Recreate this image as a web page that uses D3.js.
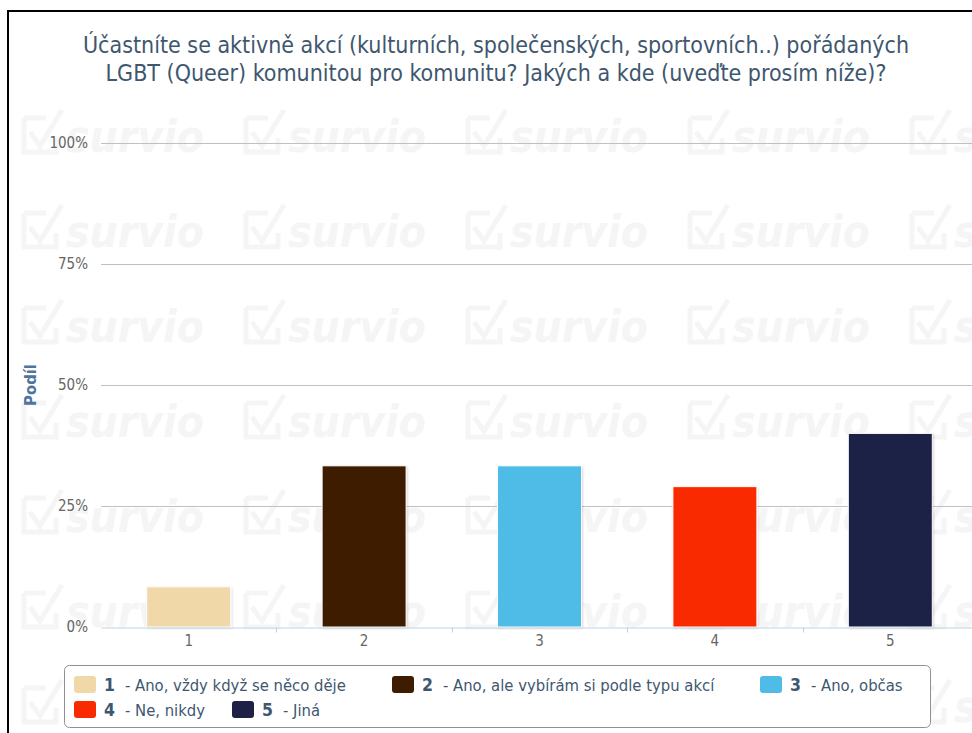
<!DOCTYPE html>
<html>
<head>
<meta charset="utf-8">
<script src="https://cdn.jsdelivr.net/npm/d3@7"></script>
<style>
  body { margin: 0; background: #fff; }
  svg { display: block; font-family: "DejaVu Sans Condensed", "DejaVu Sans", sans-serif; }
</style>
</head>
<body>
<div id="chart"></div>
<script>
var categories = ["1", "2", "3", "4", "5"];
var values = [8.3, 33.3, 33.3, 29, 40];
var labels = ["Ano, vždy když se něco děje", "Ano, ale vybírám si podle typu akcí", "Ano, občas", "Ne, nikdy", "Jiná"];
var colors = ["#F0D8A8", "#3D1C00", "#4FBBE7", "#FA2A00", "#1E2045"];
var yTicks = [0, 25, 50, 75, 100];
var titleLines = ["Účastníte se aktivně akcí (kulturních, společenských, sportovních..) pořádaných",
                  "LGBT (Queer) komunitou pro komunitu? Jakých a kde (uveďte prosím níže)?"];

var width = 972, height = 733;
var margin = {top: 143, left: 101, bottom: 106};
var fontC = "DejaVu Sans Condensed, DejaVu Sans, sans-serif";

var svg = d3.select("#chart")
  .append("svg")
    .attr("width", width)
    .attr("height", height);

var defs = svg.append("defs");
var shadow = defs.append("filter").attr("id", "shadow")
  .attr("x", "-10%").attr("y", "-10%").attr("width", "130%").attr("height", "130%");
shadow.append("feDropShadow")
  .attr("dx", 1).attr("dy", 1).attr("stdDeviation", 1)
  .attr("flood-color", "#000").attr("flood-opacity", 0.15);

// watermark tiles
var wm = svg.append("g").attr("fill", "none");
for (var ty = 0; ty < 7; ty++) {
  for (var tx = 0; tx < 5; tx++) {
    var g = wm.append("g").attr("transform", "translate(" + (22 + tx * 222) + "," + (106 + ty * 95) + ")");
    g.append("path")
      .attr("d", "M2,12 L24,12 M2,12 L2,46 L34,46 L34,32 M8,26 L18,40 L40,4")
      .attr("stroke", "#f5f5f5").attr("stroke-width", 5);
    g.append("text")
      .attr("x", 44).attr("y", 46)
      .attr("font-family", fontC)
      .attr("font-size", 44).attr("font-weight", "bold").attr("font-style", "italic")
      .attr("fill", "#f5f5f5")
      .text("survio");
  }
}

// frame
svg.append("rect")
  .attr("x", 8).attr("y", 11)
  .attr("width", 1000).attr("height", 1000)
  .attr("fill", "none").attr("stroke", "#000").attr("stroke-width", 2);

// title
svg.append("text")
  .attr("text-anchor", "middle")
  .attr("fill", "#3E576F")
  .attr("font-size", 23)
  .selectAll("tspan")
  .data(titleLines)
  .enter()
  .append("tspan")
    .attr("x", 496)
    .attr("y", function(d, i){ return 53 + i * 28; })
    .text(function(d){ return d; });

var x = d3.scaleBand()
  .domain(categories)
  .range([margin.left, 978]);

var y = d3.scaleLinear()
  .domain([0, 100])
  .range([627, margin.top]);

// gridlines
svg.append("g")
  .selectAll("line")
  .data(yTicks.filter(function(d){ return d > 0; }))
  .enter()
  .append("line")
    .attr("x1", margin.left).attr("x2", 978)
    .attr("y1", function(d){ return y(d) + 0.5; })
    .attr("y2", function(d){ return y(d) + 0.5; })
    .attr("stroke", "#C0C0C0");

// y axis labels
var yAxis = d3.axisLeft(y)
  .tickValues(yTicks)
  .tickSize(0)
  .tickPadding(13)
  .tickFormat(function(d){ return d + "%"; });

svg.append("g")
  .attr("transform", "translate(" + margin.left + ",0)")
  .call(yAxis)
  .call(function(g){ g.select(".domain").remove(); })
  .selectAll("text")
    .attr("font-family", fontC)
    .attr("font-size", 15)
    .attr("fill", "#666");

// y axis title
svg.append("text")
  .attr("transform", "translate(36," + y(50) + ") rotate(-90)")
  .attr("text-anchor", "middle")
  .attr("font-size", 16.5)
  .attr("font-weight", "bold")
  .attr("fill", "#4D759E")
  .text("Podíl");

// bars
svg.append("g")
  .selectAll("rect")
  .data(values)
  .enter()
  .append("rect")
    .attr("x", function(d, i){ return x(categories[i]) + (x.bandwidth() - 84) / 2; })
    .attr("y", function(d){ return y(d); })
    .attr("width", 84)
    .attr("height", function(d){ return y(0) - y(d); })
    .attr("fill", function(d, i){ return colors[i]; })
    .attr("stroke", "#fff")
    .attr("stroke-width", 1)
    .attr("filter", "url(#shadow)");

// x axis
var xAxis = d3.axisBottom(x).tickSize(0).tickPadding(8);
var gx = svg.append("g")
  .attr("transform", "translate(0," + (y(0) + 0.5) + ")")
  .call(xAxis);
gx.select(".domain").attr("stroke", "#C0D0E0");
gx.selectAll("text")
  .attr("font-family", fontC)
  .attr("font-size", 15)
  .attr("fill", "#666");
gx.selectAll(".sep")
  .data(categories.slice(1))
  .enter()
  .append("line")
    .attr("x1", function(d){ return Math.round(x(d)) + 0.5; })
    .attr("x2", function(d){ return Math.round(x(d)) + 0.5; })
    .attr("y1", 0).attr("y2", 5)
    .attr("stroke", "#C0D0E0");

// legend
svg.append("rect")
  .attr("x", 64.5).attr("y", 665.5)
  .attr("width", 866).attr("height", 62)
  .attr("rx", 5)
  .attr("fill", "#fff")
  .attr("stroke", "#909090");

var legendPos = [[74, 676], [392, 676], [760, 676], [74, 701], [232, 701]];
var item = svg.append("g")
  .selectAll("g")
  .data(categories)
  .enter()
  .append("g")
    .attr("transform", function(d, i){ return "translate(" + legendPos[i][0] + "," + legendPos[i][1] + ")"; });

item.append("rect")
  .attr("width", 22).attr("height", 17).attr("rx", 3)
  .attr("fill", function(d, i){ return colors[i]; });

var lt = item.append("text")
  .attr("x", 30).attr("y", 15)
  .attr("fill", "#3E576F");
lt.append("tspan")
  .attr("font-size", 17.5).attr("font-weight", "bold")
  .text(function(d){ return d; });
lt.append("tspan")
  .attr("font-size", 16.5)
  .attr("dx", 10)
  .text(function(d, i){ return "- " + labels[i]; });
</script>
</body>
</html>
